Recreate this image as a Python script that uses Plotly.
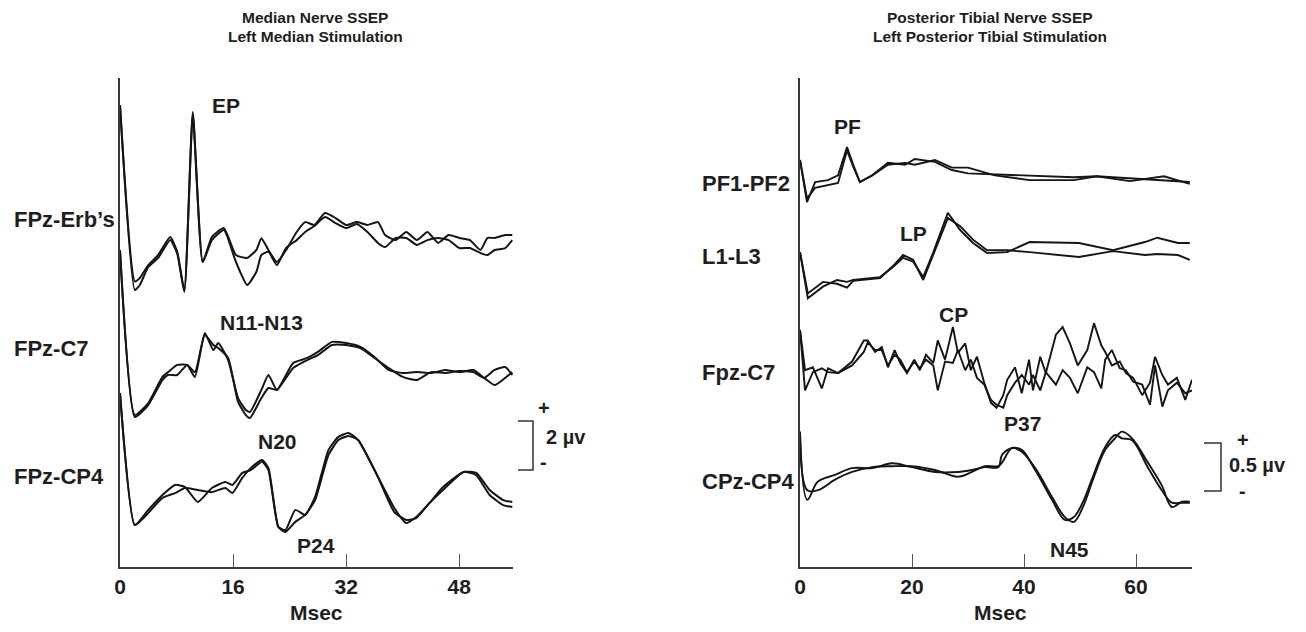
import plotly.graph_objects as go

# Median nerve SSEP (left panel), time in ms, amplitude in uV relative to channel baseline
erb_t = [0, 2.1, 2.8, 4.0, 5.4, 7.1, 8.1, 9.1, 10.3, 11.7, 13.0, 14.7, 16.4, 18.0, 19.3, 20.0, 21.0, 22.2, 23.5, 25.0,
         26.2, 27.5, 29.0, 30.5, 32.0, 33.5, 35.0, 36.5, 37.5, 39.0, 40.5, 42.0, 43.5, 45.0, 46.5, 48.0, 49.5, 51.0,
         52.0, 53.0, 54.5, 55.5]
erb_a = [5.75, -1.6, -1.46, -0.92, -0.5, 0.25, -0.37, -1.96, 5.46, -0.79, 0.25, 0.62, -0.5, -0.62, -0.29, 0.2, -0.29,
         -0.79, -0.29, 0.46, 0.87, 0.75, 1.25, 1.04, 0.75, 0.87, 0.75, 0.87, 0.33, 0.12, 0.46, 0.12, 0.46, 0, 0.33, 0.21,
         0.12, -0.29, 0.21, 0.21, 0.33, 0.33]
erb_b = [5.75, -1.96, -1.75, -1.0, -0.62, 0.12, -0.45, -2.04, 5.33, -0.79, 0.12, 0.54, -0.79, -1.75, -1.2, -0.5, -0.37,
         -0.92, -0.2, 0.12, 0.46, 0.71, 1.08, 0.83, 0.62, 0.79, 0.46, 0, -0.17, 0.21, 0.21, -0.08, 0.12, 0.21, 0.12,
         -0.21, -0.21, -0.42, -0.5, -0.29, -0.21, 0.12]

c7_t = [0, 2.1, 4.0, 6.0, 6.8, 8.1, 9.5, 10.6, 12.0, 13.2, 13.9, 15.3, 16.7, 17.8, 18.4, 20.0, 21.0, 22.2, 24.5, 26.5,
        28.0, 30.0, 32.0, 34.0, 36.0, 38.0, 40.0, 42.0, 44.0, 46.0, 48.0, 50.0, 51.5, 53.0, 54.5, 55.5]
c7_a = [5.71, -1.17, -0.67, 0.42, 0.62, 0.92, 0.92, 0.42, 2.25, 1.54, 1.83, 1.12, -0.46, -0.96, -1.04, -0.12, 0.5,
        -0.12, 1.0, 1.21, 1.46, 1.88, 1.83, 1.67, 1.25, 0.71, 0.58, 0.62, 0.58, 0.71, 0.62, 0.71, 0.38, 0.08, 0.38, 0.62]
c7_b = [5.71, -1.25, -0.75, 0.29, 0.5, 0.5, 0.92, 0.62, 2.17, 1.75, 1.62, 1.21, -0.62, -1.17, -1.29, -0.46, -0.04,
        -0.12, 0.79, 1.12, 1.33, 1.75, 1.75, 1.62, 1.21, 0.79, 0.42, 0.29, 0.62, 0.58, 0.67, 0.62, 0.38, 0.71, 0.83, 0.5]

cp4_t = [0, 2.1, 4.0, 6.0, 7.8, 9.2, 11.0, 13.0, 14.9, 15.9, 17.3, 18.5, 20.1, 21.0, 22.4, 23.4, 24.8, 26.2, 27.6,
         29.5, 30.9, 32.3, 33.7, 36.5, 38.8, 40.5, 41.9, 43.8, 45.7, 48.6, 50.4, 52.3, 54.2, 55.5]
cp4_a = [4.25, -1.25, -0.62, 0, 0.42, 0.33, -0.29, 0.29, 0.54, 0.42, 0.92, 1.04, 1.38, 1.04, -1.33, -1.46, -0.62,
         -0.83, -0.08, 1.88, 2.42, 2.58, 2.29, 0.75, -0.54, -1.17, -0.92, -0.33, 0.33, 0.96, 0.92, 0.21, -0.21, -0.29]
cp4_b = [4.25, -1.25, -0.75, -0.12, 0.08, 0.29, 0.21, 0.12, 0.29, 0.08, 0.71, 1.12, 1.46, 1.12, -1.33, -1.54, -1.12,
         -0.83, -0.21, 1.67, 2.29, 2.46, 2.29, 0.75, -0.71, -1.04, -0.96, -0.33, 0.21, 0.96, 0.83, 0, -0.42, -0.5]

# Posterior tibial SSEP (right panel)
pf_t = [0, 1.25, 2.7, 5.0, 6.8, 8.4, 9.5, 10.7, 12.9, 15.7, 18.75, 20.5, 24.1, 27.1, 30.0, 34.8, 41.0, 48.9, 53.0,
        58.9, 65.0, 69.6]
pf_a = [0.24, -0.2, 0.01, 0.03, 0.08, 0.375, 0.19, 0.01, 0.08, 0.21, 0.19, 0.25, 0.22, 0.135, 0.10, 0.09, 0.07, 0.06,
        0.07, 0.05, 0.03, 0.01]
pf_b = [0.24, -0.16, -0.05, -0.02, 0, 0.34, 0.17, 0.01, 0.08, 0.19, 0.21, 0.19, 0.24, 0.16, 0.16, 0.08, 0.03, 0.03,
        0.07, 0.02, 0.07, -0.01]

l13_t = [0, 1.4, 4.1, 6.6, 8.4, 9.5, 14.3, 16.6, 18.4, 20.2, 22.0, 23.75, 26.4, 28.6, 30.9, 33.4, 37.0, 41.0, 49.8,
         55.9, 61.6, 63.8, 67.5, 69.6]
l13_a = [0.03, -0.45, -0.33, -0.26, -0.28, -0.26, -0.23, -0.125, -0.03, -0.07, -0.23, 0.02, 0.44, 0.26, 0.125, 0.02,
         0.03, 0.135, 0.125, 0.05, 0.135, 0.18, 0.125, 0.125]
l13_b = [0.03, -0.40, -0.28, -0.30, -0.34, -0.27, -0.24, -0.115, 0, -0.05, -0.26, -0.01, 0.385, 0.30, 0.16, 0.05,
         0.05, 0.03, -0.02, 0.04, 0, 0.01, 0, -0.05]

fc7_t = [0, 0.9, 2.3, 3.9, 5.0, 6.8, 9.3, 11.4, 12.1, 13.4, 14.6, 15.7, 16.9, 17.9, 19.1, 20.4, 21.4, 22.5, 23.8, 24.6,
         25.9, 27.3, 28.2, 29.5, 30.5, 31.6, 32.9, 34.1, 35.1, 36.3, 37.0, 38.4, 39.6, 40.9, 41.6, 42.9, 43.9, 45.7,
         46.9, 48.2, 49.6, 51.3, 52.5, 53.8, 54.5, 55.7, 57.1, 58.2, 59.5, 61.1, 62.5, 63.4, 64.7, 65.7, 67.3, 68.8, 70.0]
fc7_a = [0.47, 0.05, 0.08, -0.14, 0.07, 0.02, 0.14, 0.36, 0.36, 0.24, 0.29, 0.08, 0.26, 0.125, 0.02, 0.16, 0.05, 0.21,
         0.125, 0.36, 0.16, 0.5, 0.23, 0.33, 0.05, 0.19, -0.08, -0.29, -0.34, -0.21, -0.05, 0.08, -0.19, 0.16, -0.16,
         0.19, 0.02, 0.42, 0.5, 0.33, 0.10, 0.26, 0.54, 0.31, 0.24, 0.10, 0.14, 0.02, -0.03, -0.21, -0.08, 0.19, 0,
         -0.10, -0.03, -0.26, -0.05]
fc7_b = [0.47, -0.16, 0.03, 0.07, 0.03, 0.02, 0.10, 0.24, 0.34, 0.26, 0.26, 0.10, 0.21, 0.16, 0.03, 0.14, 0.07, 0.16,
         0.10, -0.16, 0.14, 0.125, 0.26, 0.05, 0.16, -0.03, -0.10, -0.26, -0.31, -0.34, -0.21, -0.08, 0, -0.10, 0,
         -0.16, 0.03, -0.10, 0.05, -0.03, -0.19, 0.08, 0.03, -0.14, 0.16, 0.26, 0.07, 0.05, -0.07, -0.10, -0.31, 0.10,
         -0.33, -0.16, -0.08, -0.19, -0.16]

cpz_t = [0, 1.3, 3.2, 6.25, 9.3, 12.9, 16.4, 20.0, 24.1, 28.2, 30.7, 33.0, 35.4, 36.1, 37.9, 39.6, 42.0, 45.0, 47.3,
         48.9, 50.7, 52.1, 54.5, 56.25, 57.5, 59.3, 62.1, 64.6, 66.4, 68.2, 69.6]
cpz_a = [0.41, -0.30, -0.11, -0.04, 0.03, 0.03, 0.08, 0.04, -0.01, -0.01, 0.01, 0.04, 0.04, 0.17, 0.24, 0.22, 0.01,
         -0.30, -0.51, -0.48, -0.30, -0.09, 0.25, 0.375, 0.34, 0.32, 0.04, -0.20, -0.33, -0.33, -0.33]
cpz_b = [0.41, -0.20, -0.20, -0.09, -0.01, 0.04, 0.05, 0.05, 0.01, -0.06, -0.01, 0.05, 0.05, 0.09, 0.24, 0.20, 0.03,
         -0.27, -0.48, -0.53, -0.35, -0.125, 0.22, 0.34, 0.41, 0.34, 0.09, -0.15, -0.375, -0.32, -0.32]

left_ticks = [0, 16, 32, 48]
right_ticks = [0, 20, 40, 60]

# the page body adds an 8px margin, so the figure is drawn 8px in from the window corner
OFF = 8
W, H = 1306 - 2 * OFF, 632 - 2 * OFF
LINE = "#151515"
TXT = "#1e1e1e"
FONT = "Liberation Sans, Arial, sans-serif"


def px(x):
    return (x - OFF) / W


def py(y):
    return 1 - (y - OFF) / H


fig = go.Figure()

# channel baselines on the stacked axes (uV)
left = [(erb_t, erb_a, erb_b, 13.5), (c7_t, c7_a, c7_b, 7.5), (cp4_t, cp4_a, cp4_b, 3.0)]
right = [(pf_t, pf_a, pf_b, 4.0, "linear"), (l13_t, l13_a, l13_b, 3.25, "linear"),
         (fc7_t, fc7_a, fc7_b, 2.0, "linear"), (cpz_t, cpz_a, cpz_b, 1.0, "spline")]

for t, a, b, off in left:
    for v in (a, b):
        fig.add_trace(go.Scatter(x=t, y=[k + off for k in v], mode="lines", xaxis="x", yaxis="y",
                                 line=dict(color=LINE, width=2, shape="spline", smoothing=0.5),
                                 showlegend=False, hoverinfo="skip", cliponaxis=False))
for t, a, b, off, shp in right:
    for v in (a, b):
        fig.add_trace(go.Scatter(x=t, y=[k + off for k in v], mode="lines", xaxis="x2", yaxis="y2",
                                 line=dict(color=LINE, width=1.9, shape=shp),
                                 showlegend=False, hoverinfo="skip", cliponaxis=False))

ydom = [py(567), py(78)]
xax = dict(showline=True, linecolor="#3a3a3a", linewidth=1.5, ticks="inside", ticklen=13, tickwidth=1.3,
           tickcolor="#555", showgrid=False, zeroline=False, automargin=False,
           tickfont=dict(family=FONT, size=21, color=TXT, weight="bold"))
yax = dict(showline=True, linecolor="#3a3a3a", linewidth=1.5, showticklabels=False, ticks="",
           showgrid=False, zeroline=False, automargin=False)

fig.update_layout(
    template="none",
    width=W, height=H, margin=dict(l=0, r=0, t=0, b=0),
    paper_bgcolor="white", plot_bgcolor="white", showlegend=False,
    xaxis=dict(xax, domain=[px(120), px(513)], range=[0, 55.6], tickvals=left_ticks, anchor="y"),
    yaxis=dict(yax, domain=ydom, range=[0, 489 / 24], anchor="x"),
    xaxis2=dict(xax, domain=[px(800), px(1192)], range=[0, 70], tickvals=right_ticks, anchor="y2"),
    yaxis2=dict(yax, domain=ydom, range=[0, 489 / 96], anchor="x2"),
)

ann = []


def text(s, x, y, size=21, xanchor="center"):
    ann.append(dict(text=s, x=px(x), y=py(y), xref="paper", yref="paper", showarrow=False,
                    xanchor=xanchor, yanchor="middle",
                    font=dict(family=FONT, size=size, color=TXT, weight="bold")))


# titles
text("Median Nerve SSEP", 315, 17, 15.5)
text("Left Median Stimulation", 315, 37, 15.5)
text("Posterior Tibial Nerve SSEP", 990, 17, 15.5)
text("Left Posterior Tibial Stimulation", 990, 37, 15.5)

# channel labels
text("FPz-Erb\u2019s", 12, 220, 22, "left")
text("FPz-C7", 12, 348, 22, "left")
text("FPz-CP4", 12, 476, 22, "left")
text("PF1-PF2", 700, 183, 22, "left")
text("L1-L3", 700, 256, 22, "left")
text("Fpz-C7", 700, 372, 22, "left")
text("CPz-CP4", 700, 482, 22, "left")

# peak labels
text("EP", 226, 106)
text("N11-N13", 261, 322)
text("N20", 277, 441)
text("P24", 316, 545)
text("PF", 847, 126)
text("LP", 913, 234)
text("CP", 954, 314)
text("P37", 1023, 423)
text("N45", 1069, 549)

# axis titles
text("Msec", 316, 612, 21)
text("Msec", 1000, 612, 21)

# calibration bars
text("+", 544, 408, 20)
text("2 \u00b5v", 566, 437, 20)
text("-", 543, 462, 20)
text("+", 1243, 440, 20)
text("0.5 \u00b5v", 1257, 465, 20)
text("-", 1242, 491, 20)

shapes = []
for x0, x1, y0, y1 in [(518, 533, 421, 470), (1204, 1221, 443, 491)]:
    shapes.append(dict(type="path", xref="paper", yref="paper",
                       path=f"M {px(x0)} {py(y0)} L {px(x1)} {py(y0)} L {px(x1)} {py(y1)} L {px(x0)} {py(y1)}",
                       line=dict(color="#333", width=1.5)))

fig.update_layout(annotations=ann, shapes=shapes)
fig.write_html("out.html")
